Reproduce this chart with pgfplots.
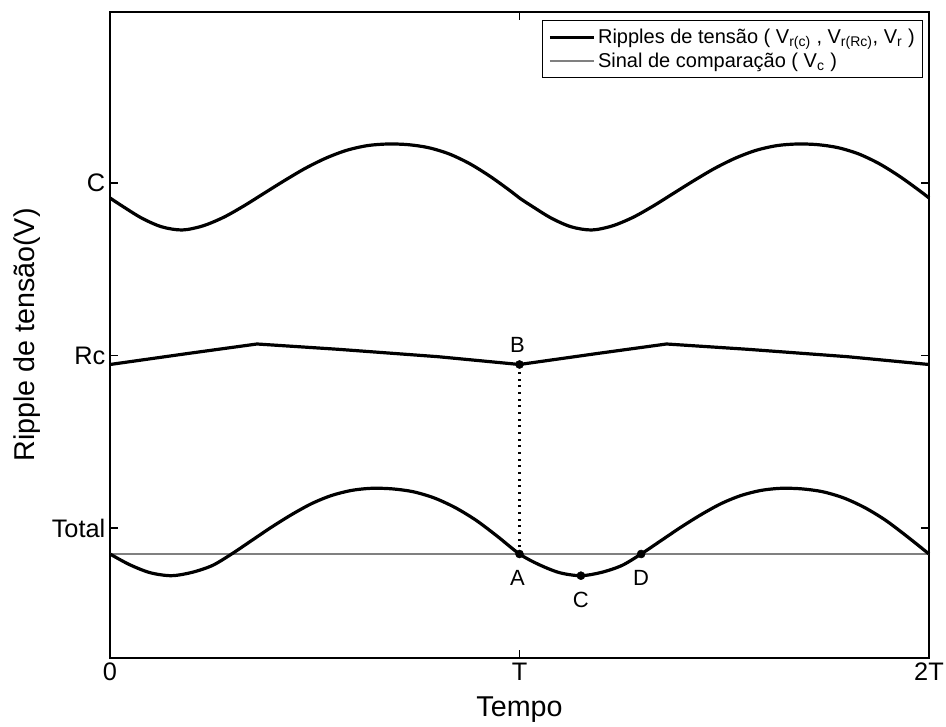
\documentclass[border=0pt]{standalone}
\usepackage{pgfplots}
\pgfplotsset{compat=1.18}
\usepackage{fontspec}
\setmainfont{Liberation Sans}
\definecolor{vcgray}{RGB}{128,128,128}
\begin{document}
\begin{tikzpicture}
\useasboundingbox (0,0) rectangle (709.5pt,545.25pt);
\begin{axis}[
  at={(82.5pt,51.75pt)}, anchor=south west,
  scale only axis, width=614.25pt, height=484.5pt,
  xmin=0, xmax=2, ymin=69, ymax=715,
  xtick={0,1,2}, xticklabels={0,T,2T},
  ytick={199,371.5,544}, yticklabels={Total,Rc,C},
  tick align=inside, major tick length=6pt,
  tick style={black, line width=0.8pt},
  axis line style={line width=1pt},
  ticklabel style={font=\fontsize{19}{22}\selectfont},
  xlabel={Tempo}, ylabel={Ripple de tensão(V)},
  label style={font=\fontsize{21.5}{25}\selectfont},
  xlabel style={at={(axis description cs:0.5,-0.053)}, anchor=north},
  ylabel style={at={(axis description cs:-0.1007,0.5)}, anchor=center, rotate=0},
  legend cell align=left,
  legend style={at={(0.993,0.988)}, anchor=north east, draw=black, line width=0.8pt,
    font=\fontsize{15}{18}\selectfont, inner xsep=4pt, inner ysep=4.5pt, row sep=1.5pt},
  legend image code/.code={\draw[#1] (0pt,0pt) -- (33pt,0pt);},
  clip=false,
]
\addlegendimage{black, line width=2.4pt}
\addlegendentry{Ripples de tensão ( V\textsubscript{r(c)} , V\textsubscript{r(Rc)}, V\textsubscript{r} )}
\addlegendimage{vcgray, line width=1.8pt}
\addlegendentry{Sinal de comparação ( V\textsubscript{c} )}

% comparison signal
\addplot[vcgray, line width=1.8pt, forget plot] coordinates {(0,173) (2,173)};

% C ripple
\addplot[black, line width=2.4pt, smooth, forget plot] coordinates {
(0,529) (0.027,521.7) (0.077,509.0) (0.126,500.2) (0.176,497) (0.226,501) (0.277,509.6)
(0.327,521.1) (0.377,533.9) (0.428,546.9) (0.478,558.9) (0.528,569.0) (0.578,576.7)
(0.629,581.4) (0.679,583) (0.729,582.3) (0.778,579.3) (0.828,573.1) (0.878,563.4)
(0.928,550.7) (0.977,536.3)
(1.0,529) (1.027,521.7) (1.077,509.0) (1.126,500.2) (1.176,497) (1.226,501) (1.277,509.6)
(1.327,521.1) (1.377,533.9) (1.428,546.9) (1.478,558.9) (1.528,569.0) (1.578,576.7)
(1.629,581.4) (1.679,583) (1.729,582.3) (1.778,579.3) (1.828,573.1) (1.878,563.4)
(1.928,550.7) (1.977,536.3) (2.0,529)};

% Rc ripple
\addplot[black, line width=2.4pt, forget plot] coordinates {
(0,362.5) (0.190,373.5) (0.359,383) (0.557,377.7) (0.801,370.3) (1.0,362.5)
(1.190,373.5) (1.359,383) (1.557,377.7) (1.801,370.3) (2.0,362.5)};

% Total ripple
\addplot[black, line width=2.4pt, smooth, forget plot] coordinates {
(0,173) (0.047,162.5) (0.098,154.3) (0.15,151.3) (0.200,154.6) (0.250,161.5) (0.297,173)
(0.346,186.5) (0.395,200) (0.444,212.5) (0.493,223.5) (0.541,231.5) (0.590,236.6)
(0.639,238.7) (0.690,238.1) (0.741,235.2) (0.792,229.0) (0.843,219.4) (0.894,206.7)
(0.945,191)
(1.0,173) (1.047,162.5) (1.098,154.3) (1.15,151.3) (1.200,154.6) (1.250,161.5) (1.297,173)
(1.346,186.5) (1.395,200) (1.444,212.5) (1.493,223.5) (1.541,231.5) (1.590,236.6)
(1.639,238.7) (1.690,238.1) (1.741,235.2) (1.792,229.0) (1.843,219.4) (1.894,206.7)
(1.945,191) (2.0,173)};

% dotted link B-A
\addplot[black, line width=1.6pt, dash pattern=on 1.6pt off 3.4pt, forget plot] coordinates {(1,173) (1,362.5)};

% marked points
\addplot[only marks, mark=*, mark size=3pt, black, forget plot] coordinates {
(1,173) (1.15,151.3) (1.297,173) (1,362.5)};

\node[font=\fontsize{16.5}{19}\selectfont] at (axis cs:0.995,382) {B};
\node[font=\fontsize{16.5}{19}\selectfont] at (axis cs:0.995,149) {A};
\node[font=\fontsize{16.5}{19}\selectfont] at (axis cs:1.15,127) {C};
\node[font=\fontsize{16.5}{19}\selectfont] at (axis cs:1.297,149) {D};
\end{axis}
\end{tikzpicture}
\end{document}
